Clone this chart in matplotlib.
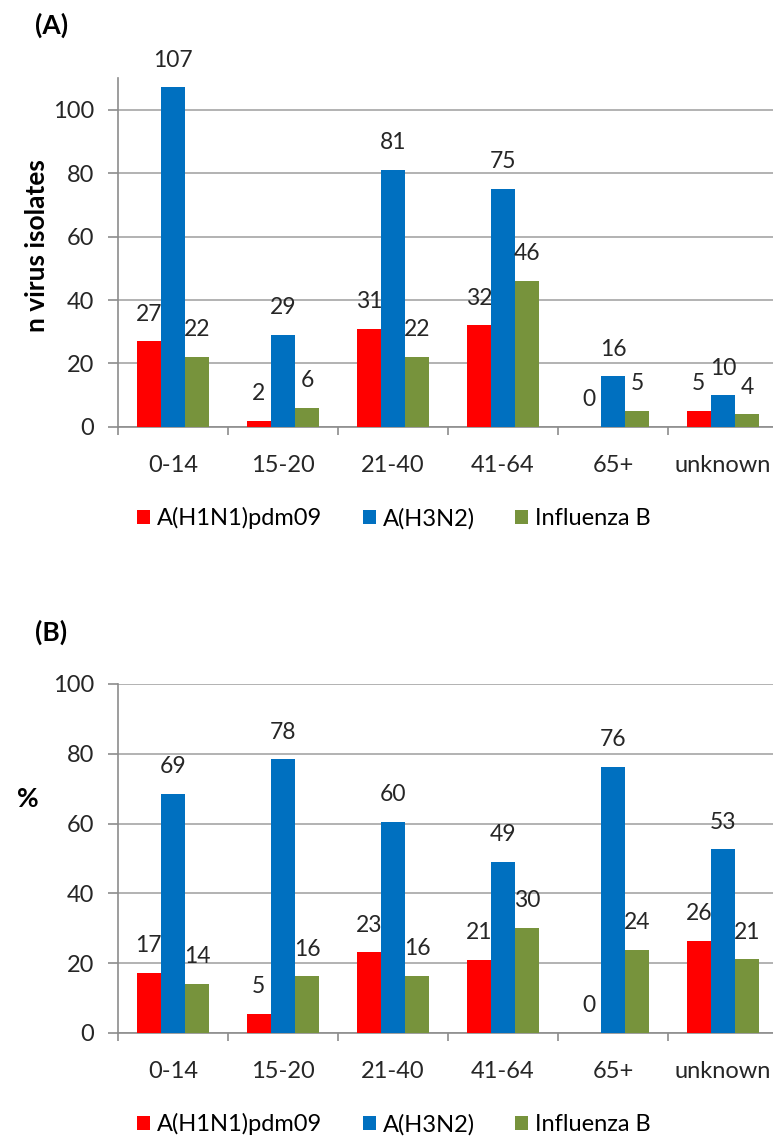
import matplotlib
matplotlib.use("Agg")
import matplotlib.pyplot as plt
import numpy as np

plt.rcParams["font.family"] = ["Lato", "DejaVu Sans"]

age_groups = ["0-14", "15-20", "21-40", "41-64", "65+", "unknown"]
series_names = ["A(H1N1)pdm09", "A(H3N2)", "Influenza B"]
colors = ["#FF0000", "#0070C0", "#77933C"]

# panel A: counts of virus isolates
h1n1_n = [27, 2, 31, 32, 0, 5]
h3n2_n = [107, 29, 81, 75, 16, 10]
fluB_n = [22, 6, 22, 46, 5, 4]

# panel B: share per age group (%)
h1n1_pct = [17.3, 5.4, 23.1, 20.9, 0.0, 26.3]
h3n2_pct = [68.6, 78.4, 60.4, 49.0, 76.2, 52.6]
fluB_pct = [14.1, 16.2, 16.4, 30.1, 23.8, 21.1]

GRID = "#A6A6A6"
AXIS = "#8C8C8C"
TXT = "#262626"
FS = 17


def draw_panel(ax, data, ymax, ylabel, ylabel_rot, ylabel_xy):
    x = np.arange(len(age_groups))
    w = 0.22
    for i, (vals, col) in enumerate(zip(data, colors)):
        pos = x + (i - 1) * w
        bars = ax.bar(pos, vals, width=w, color=col, label=series_names[i], zorder=3)
        for b, v in zip(bars, vals):
            ax.annotate(f"{v:.0f}", (b.get_x() + w / 2, b.get_height()),
                        xytext=(0, 12), textcoords="offset points",
                        ha="center", va="bottom", fontsize=16.5, color=TXT)
    ax.set_xlim(-0.5, len(age_groups) - 0.5)
    ax.set_ylim(0, ymax)
    ax.set_yticks(np.arange(0, 101, 20))
    ax.yaxis.grid(True, color=GRID, lw=1.2, zorder=0)
    ax.set_axisbelow(True)
    for s in ["top", "right"]:
        ax.spines[s].set_visible(False)
    for s in ["left", "bottom"]:
        ax.spines[s].set_color(AXIS)
        ax.spines[s].set_linewidth(1.2)
    # category ticks sit on the group boundaries
    ax.set_xticks(np.arange(len(age_groups) + 1) - 0.5, minor=False)
    ax.set_xticklabels([])
    ax.set_xticks(x, minor=True)
    ax.set_xticklabels(age_groups, minor=True, fontsize=FS, color=TXT)
    ax.tick_params(axis="x", which="major", length=6, color=AXIS, width=1.2)
    ax.tick_params(axis="x", which="minor", length=0, pad=20)
    ax.tick_params(axis="y", length=7, color=AXIS, width=1.2, labelsize=FS,
                   labelcolor=TXT, pad=10)
    ax.set_ylabel(ylabel, fontsize=19, fontweight="bold", rotation=ylabel_rot,
                  va="center", ha="center")
    ax.yaxis.set_label_coords(*ylabel_xy)
    ax.legend(loc="center", bbox_to_anchor=(0.418, -0.262), ncol=3, frameon=False,
              fontsize=FS, handlelength=0.55, handleheight=0.55, handletextpad=0.3,
              columnspacing=1.7)


fig = plt.figure(figsize=(7.73, 11.37), dpi=100)
axA = fig.add_axes([118 / 773, 0.6245, 660 / 773, 0.307])
axB = fig.add_axes([118 / 773, 0.0915, 660 / 773, 0.307])

draw_panel(axA, [h1n1_n, h3n2_n, fluB_n], 110, "n virus isolates", 90, (-0.122, 0.52))
draw_panel(axB, [h1n1_pct, h3n2_pct, fluB_pct], 100, "%", 0, (-0.136, 0.67))

fig.text(35 / 773, 1 - 25 / 1137, "(A)", fontsize=19, fontweight="bold", va="center")
fig.text(35 / 773, 1 - 632 / 1137, "(B)", fontsize=19, fontweight="bold", va="center")

fig.savefig("out.png", dpi=100)
